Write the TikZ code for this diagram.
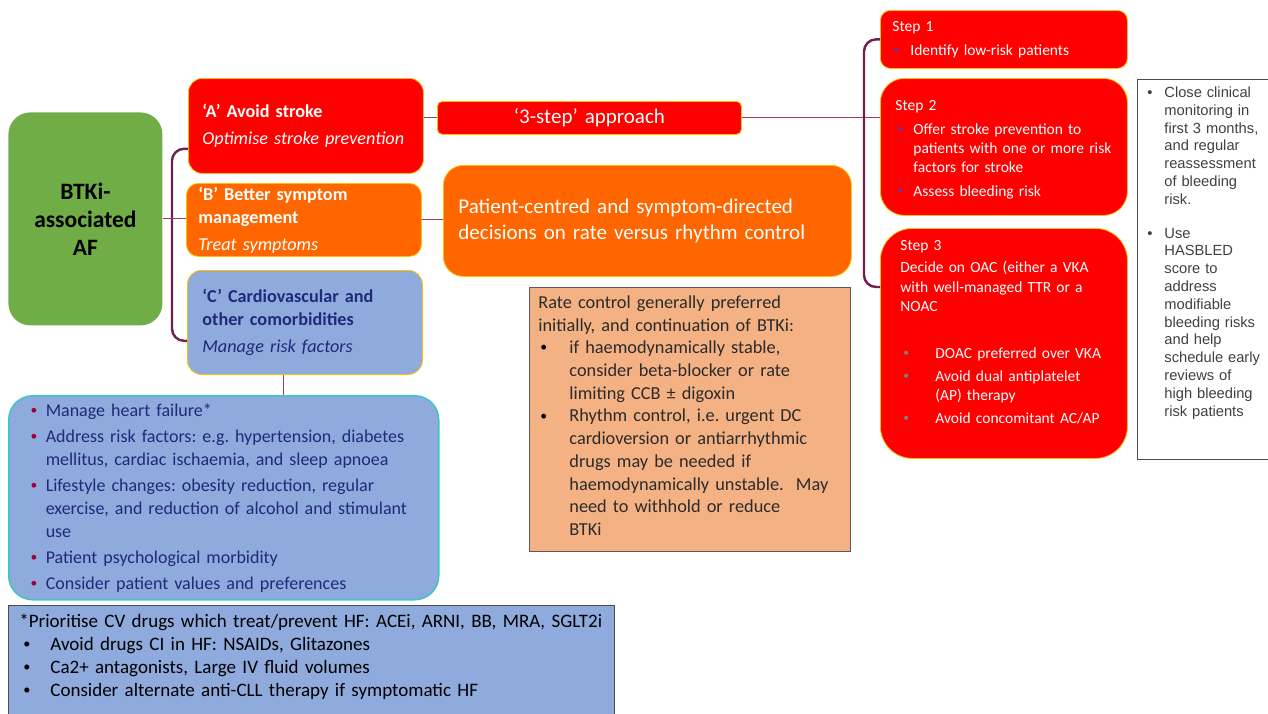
\documentclass[tikz,border=0pt]{standalone}
\usepackage{fontspec}
\setmainfont{Carlito}
\newfontfamily\arialfont{Liberation Sans}
\usepackage{graphicx}
\usepackage{tikz}
\usetikzlibrary{calc}
\usepackage{xcolor}
\definecolor{alarm}{HTML}{FF0000}
\definecolor{symp}{HTML}{FF6600}
\definecolor{cvblue}{HTML}{8FAADC}
\definecolor{peach}{HTML}{F4B183}
\definecolor{leaf}{HTML}{70AD47}
\definecolor{gold}{HTML}{FFC000}
\definecolor{navy}{HTML}{1F2A7A}
\definecolor{plum}{HTML}{6E2050}
\definecolor{linkred}{HTML}{A0404F}
\definecolor{lagoon}{HTML}{3CC8C0}
\definecolor{berry}{HTML}{A0003C}
\definecolor{violet7}{HTML}{7030A0}
\definecolor{ink}{HTML}{2B2B2B}
\definecolor{ink2}{HTML}{404040}
\frenchspacing

\newcommand{\bul}[2][black]{\makebox[#2][l]{\raisebox{0.1em}{\scalebox{0.75}{\textcolor{#1}{\textbullet}}}}}

\begin{document}
\begin{tikzpicture}[
    x=1pt, y=-1pt,
    card/.style={anchor=north west, inner sep=0pt, align=left, draw=gold, line width=0.8pt},
    pad/.style={execute at begin node={\leftskip=#1}},
    wire/.style={draw=linkred, line width=0.9pt},
    brace/.style={draw=plum, line width=2.4pt, rounded corners=12pt}
]
\useasboundingbox (0,0) rectangle (1268,713);
\fill[white] (0,0) rectangle (1268,713);

% hub
\node[card, draw=none, fill=leaf, rounded corners=22pt, text width=154pt, minimum height=213pt,
      align=center, font=\bfseries\fontsize{23.5}{28}\selectfont] (btki) at (8,112) {BTKi-\\associated\\AF};

% A B C
\node[card, fill=alarm, text=white, rounded corners=14pt, text width=235pt, minimum height=95pt, pad=14pt,
      font=\fontsize{18.2}{23}\selectfont] (avoid) at (188,78)
  {\textbf{`A' Avoid stroke}\\[4pt]\textit{Optimise stroke prevention}\\[-19pt]\mbox{}};
\node[card, fill=symp, text=white, rounded corners=12pt, text width=235pt, minimum height=73pt, pad=12pt,
      font=\fontsize{18.2}{23}\selectfont] (better) at (186,183)
  {\textbf{`B' Better symptom}\\\textbf{management}\\[4pt]\textit{Treat symptoms}};
\node[card, fill=cvblue, text=navy, rounded corners=14pt, text width=235pt, minimum height=104pt, pad=15pt,
      font=\fontsize{18.2}{23}\selectfont] (cvd) at (187,270)
  {\textbf{`C' Cardiovascular and}\\\textbf{other comorbidities}\\[4pt]\textit{Manage risk factors}\\[-19pt]\mbox{}};

% middle column
\node[card, fill=alarm, text=white, rounded corners=5pt, text width=304pt, minimum height=33pt,
      align=center, font=\fontsize{21}{23}\selectfont] (approach) at (437,101) {`3-step' approach};
\node[card, fill=symp, text=white, rounded corners=20pt, text width=408pt, minimum height=111pt, pad=15pt,
      font=\fontsize{21}{26}\selectfont] (decide) at (443,165)
  {Patient-centred and symptom-directed\\decisions on rate versus rhythm control};
\node[card, draw=gray!70!black, fill=peach, text=ink, text width=321pt, text height=21pt, text depth=243pt, pad=9pt,
      font=\fontsize{18.3}{22.7}\selectfont] (rate) at (529,287)
  {Rate control generally preferred\\
   initially, and continuation of BTKi:\\
   \hspace*{2pt}\bul{29pt}if haemodynamically stable,\\
   \hspace*{31pt}consider beta-blocker or rate\\
   \hspace*{31pt}limiting CCB ± digoxin\\
   \hspace*{2pt}\bul{29pt}Rhythm control, i.e. urgent DC\\
   \hspace*{31pt}cardioversion or antiarrhythmic\\
   \hspace*{31pt}drugs may be needed if\\
   \hspace*{31pt}haemodynamically unstable.\ \ May\\
   \hspace*{31pt}need to withhold or reduce\\
   \hspace*{31pt}BTKi};

% steps
\node[card, fill=alarm, text=white, rounded corners=10pt, text width=247pt, minimum height=58pt, pad=12pt,
      font=\fontsize{15.5}{19}\selectfont] (step1) at (880,10)
  {Step 1\\[5pt]\hspace*{1pt}\bul[violet7]{17pt}Identify low-risk patients};
\node[card, fill=alarm, text=white, rounded corners=24pt, text width=247pt, text height=32pt, text depth=105pt, pad=15pt,
      font=\fontsize{15.5}{19}\selectfont] (step2) at (880,78)
  {Step 2\\[5pt]
   \hspace*{2pt}\bul[violet7]{16pt}Offer stroke prevention to\\
   \hspace*{18pt}patients with one or more risk\\
   \hspace*{18pt}factors for stroke\\[5pt]
   \hspace*{2pt}\bul[violet7]{16pt}Assess bleeding risk};
\node[card, fill=alarm, text=white, rounded corners=32pt, text width=247pt, text height=22pt, text depth=208pt, pad=20pt,
      font=\fontsize{15.5}{19}\selectfont] (step3) at (880,228)
  {Step 3\\[3pt]
   Decide on OAC (either a VKA\\[1pt]
   with well-managed TTR or a\\
   NOAC\\[28pt]
   \hspace*{3pt}\bul[gray]{32pt}DOAC preferred over VKA\\[4pt]
   \hspace*{3pt}\bul[gray]{32pt}Avoid dual antiplatelet\\
   \hspace*{35pt}(AP) therapy\\[4pt]
   \hspace*{3pt}\bul[gray]{32pt}Avoid concomitant AC/AP};

% note
\node[card, draw=gray!60!black, fill=white, text=ink2, text width=138pt, minimum height=380pt, pad=10pt,
      font=\arialfont\fontsize{14.7}{17.8}\selectfont] (note) at (1137,79)
  {\makebox[17pt][l]{\textbullet}Close clinical\\
   \hspace*{17pt}monitoring in\\
   \hspace*{17pt}first 3 months,\\
   \hspace*{17pt}and regular\\
   \hspace*{17pt}reassessment\\
   \hspace*{17pt}of bleeding\\
   \hspace*{17pt}risk.\\[16pt]
   \makebox[17pt][l]{\textbullet}Use\\
   \hspace*{17pt}HASBLED\\
   \hspace*{17pt}score to\\
   \hspace*{17pt}address\\
   \hspace*{17pt}modifiable\\
   \hspace*{17pt}bleeding risks\\
   \hspace*{17pt}and help\\
   \hspace*{17pt}schedule early\\
   \hspace*{17pt}reviews of\\
   \hspace*{17pt}high bleeding\\
   \hspace*{17pt}risk patients\\[18pt]\mbox{}};

% lower left
\node[card, draw=lagoon, line width=1.5pt, fill=cvblue, text=navy, rounded corners=24pt, text width=430pt,
      minimum height=204pt, pad=22pt, font=\fontsize{18}{23}\selectfont] (manage) at (8,395)
  {\bul[berry]{15pt}Manage heart failure*\\[3pt]
   \bul[berry]{15pt}Address risk factors: e.g. hypertension, diabetes\\
   \hspace*{15pt}mellitus, cardiac ischaemia, and sleep apnoea\\[3pt]
   \bul[berry]{15pt}Lifestyle changes: obesity reduction, regular\\
   \hspace*{15pt}exercise, and reduction of alcohol and stimulant\\
   \hspace*{15pt}use\\[3pt]
   \bul[berry]{15pt}Patient psychological morbidity\\[3pt]
   \bul[berry]{15pt}Consider patient values and preferences};
\node[card, draw=gray!60!black, fill=cvblue, text=black, text width=606pt, text height=22pt, text depth=93pt, pad=11pt,
      font=\fontsize{19}{23}\selectfont] (hfbox) at (8,605)
  {*Prioritise CV drugs which treat/prevent HF: ACEi, ARNI, BB, MRA, SGLT2i\\
   \hspace*{4pt}\bul{27pt}Avoid drugs CI in HF: NSAIDs, Glitazones\\
   \hspace*{4pt}\bul{27pt}Ca2+ antagonists, Large IV fluid volumes\\
   \hspace*{4pt}\bul{27pt}Consider alternate anti-CLL therapy if symptomatic HF};

% links
\draw[brace] ([yshift=25pt]avoid.south west) -- ++(-16,0) |- ([yshift=34pt]cvd.south west);
\draw[wire] (btki.east) -- (btki.east -| better.west);
\draw[wire] (avoid.east |- approach.west) -- (approach.west);
\draw[wire] (approach.east) -- (approach.east -| step2.west);
\draw[brace] (step1.west) -- ++(-16,0) |- ([yshift=-59pt]step3.north west);
\draw[wire] (better.east) -- (better.east -| decide.west);
\draw[wire] ([xshift=-21pt]cvd.south) -- ([xshift=-21pt]cvd.south |- manage.north);
\end{tikzpicture}
\end{document}
